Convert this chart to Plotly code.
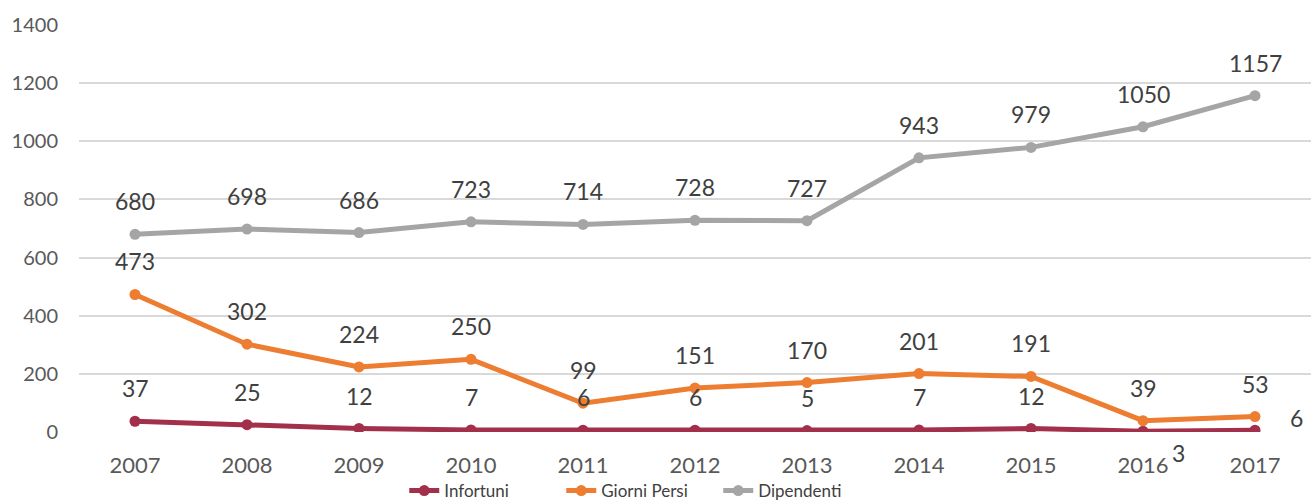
import plotly.graph_objects as go

# Annual series
anni = ["2007", "2008", "2009", "2010", "2011", "2012", "2013", "2014", "2015", "2016", "2017"]
infortuni = [37, 25, 12, 7, 6, 6, 5, 7, 12, 3, 6]
giorni_persi = [473, 302, 224, 250, 99, 151, 170, 201, 191, 39, 53]
dipendenti = [680, 698, 686, 723, 714, 728, 727, 943, 979, 1050, 1157]

y_ticks = [0, 200, 400, 600, 800, 1000, 1200, 1400]

FONT = "Lato"
TEXT = "#404040"

series = [
    ("Infortuni", infortuni, "#a3304a"),
    ("Giorni Persi", giorni_persi, "#ed7d31"),
    ("Dipendenti", dipendenti, "#a5a5a5"),
]

fig = go.Figure()
for name, vals, col in series:
    fig.add_trace(go.Scatter(
        x=anni, y=vals, name=name, mode="lines+markers",
        line=dict(color=col, width=5),
        marker=dict(color=col, size=11),
    ))

# Value labels above each point; a couple of Infortuni labels are moved aside
label_offsets = {("Infortuni", "2016"): (35, -22), ("Infortuni", "2017"): (41, 12)}
annotations = []
for name, vals, col in series:
    for i, (yr, v) in enumerate(zip(anni, vals)):
        dx, dy = label_offsets.get((name, yr), (0, 33))
        annotations.append(dict(
            x=i, y=v, xref="x", yref="y", text=str(v), showarrow=False,
            xshift=dx, yshift=dy, font=dict(family=FONT, size=23, color=TEXT),
        ))

fig.update_layout(
    width=1314, height=502,
    margin=dict(l=79, r=3, t=25, b=70, autoexpand=False),
    paper_bgcolor="white", plot_bgcolor="white",
    font=dict(family=FONT, color=TEXT),
    annotations=annotations,
    showlegend=True,
    legend=dict(
        orientation="h", x=0.264, xanchor="left", y=-0.145, yanchor="middle",
        bgcolor="rgba(0,0,0,0)",
        font=dict(family=FONT, size=17, color=TEXT),
        entrywidth=112, tracegroupgap=0,
    ),
    xaxis=dict(
        type="category", range=[-0.5, len(anni) - 0.5], automargin=False,
        showgrid=False, zeroline=False, showline=False,
        ticks="", tickfont=dict(family=FONT, size=22, color="#595959"),
        ticklabelstandoff=18,
    ),
    yaxis=dict(
        range=[0, 1400], tickvals=y_ticks, ticktext=[str(t) for t in y_ticks],
        automargin=False,
        showgrid=True, gridcolor="#d9d9d9", gridwidth=1.5, zeroline=False,
        showline=False, ticks="", tickfont=dict(family=FONT, size=20, color="#595959"),
        ticklabelstandoff=20,
    ),
)

fig.write_html("out.html")
